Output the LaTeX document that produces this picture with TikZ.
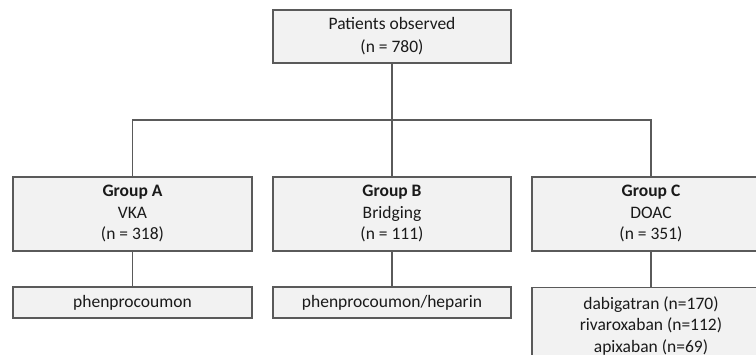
\documentclass[tikz,border=0pt]{standalone}
\usepackage{fontspec}
\setmainfont{Carlito}
\definecolor{boxfill}{HTML}{F2F2F2}
\definecolor{lineclr}{HTML}{5A5A5A}
\definecolor{txtclr}{HTML}{1A1A1A}
\newcommand{\boxlines}[2]{\raisebox{#1}{\begin{tabular}{@{}c@{}}#2\end{tabular}}}
\begin{document}
\begin{tikzpicture}[x=1pt,y=-1pt,
  box/.style={draw=lineclr, fill=boxfill, line width=1.1pt, rectangle, align=center,
    inner sep=0pt, text=txtclr, font=\fontsize{17.5}{21.5}\selectfont},
  link/.style={draw=lineclr, line width=1.1pt}]
\useasboundingbox (0,0) rectangle (756,355);
\clip (0,0) rectangle (756,355);
\node[box, minimum width=238pt, minimum height=53pt, font=\fontsize{17.5}{23.5}\selectfont] (top) at (392,36.5) {\boxlines{-2pt}{Patients observed\\(n = 780)}};
\node[box, minimum width=239pt, minimum height=74pt] (gA) at (132.5,214) {\boxlines{-3pt}{\textbf{Group A}\\VKA\\(n = 318)}};
\node[box, minimum width=238pt, minimum height=74pt] (gB) at (392,214) {\boxlines{-3pt}{\textbf{Group B}\\Bridging\\(n = 111)}};
\node[box, minimum width=238pt, minimum height=74pt] (gC) at (651,214) {\boxlines{-3pt}{\textbf{Group C}\\DOAC\\(n = 351)}};
\node[box, minimum width=239pt, minimum height=31pt] (sA) at (132.5,302.5) {phenprocoumon};
\node[box, minimum width=238pt, minimum height=31pt] (sB) at (392,302.5) {phenprocoumon/heparin};
\node[box, minimum width=238pt, minimum height=76pt, anchor=north] (sC) at (651,287) {dabigatran (n=170)\\rivaroxaban (n=112)\\apixaban (n=69)};
\coordinate (hub) at (392,120);
\draw[link] (top.south) -- (hub);
\draw[link] (gA.north) |- (hub) -| (gC.north);
\draw[link] (hub) -- (gB.north);
\draw[link] (gA.south) -- (sA.north);
\draw[link] (gB.south) -- (sB.north);
\draw[link] (gC.south) -- (sC.north);
\end{tikzpicture}
\end{document}
